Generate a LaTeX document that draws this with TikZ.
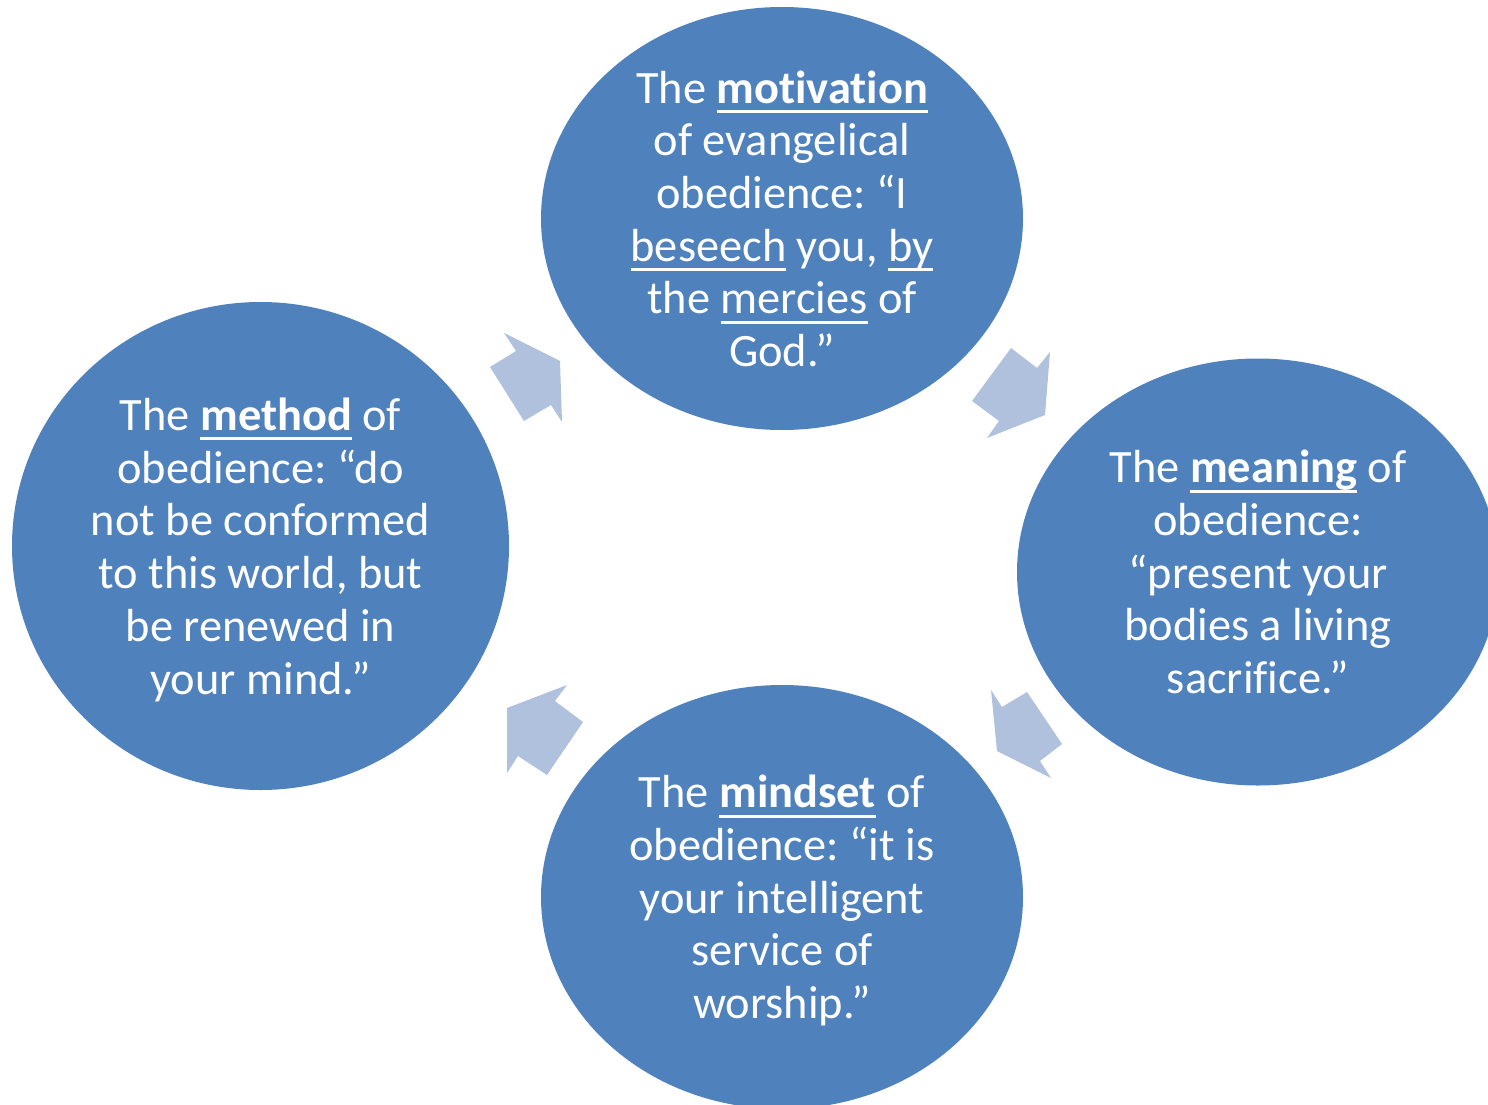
\documentclass[tikz,border=0pt]{standalone}
\usepackage{fontspec}
\setmainfont[Ligatures=NoCommon]{Carlito}
\usetikzlibrary{shapes.geometric}
\definecolor{circblue}{HTML}{4F81BD}
\definecolor{arrblue}{HTML}{B0C1DE}
\newcommand{\myul}[1]{\setbox0\hbox{#1}\rlap{\rule[-9.7pt]{\wd0}{3pt}}\box0\relax}
\frenchspacing
\tikzset{
  circ/.style={ellipse, fill=circblue, draw=none, inner sep=0pt},
  circtext/.style={text=white, align=center, font=\fontsize{46.4}{52.7}\selectfont\frenchspacing, text depth=0pt, inner sep=0pt},
  blockarrow/.style={fill=arrblue, draw=none}
}
\begin{document}
\begin{tikzpicture}[x=1pt,y=-1pt]
\useasboundingbox (0,0) rectangle (1488,1105);
\clip (0,0) rectangle (1488,1105);
% circles
\node[circ, minimum width=482, minimum height=423] (top) at (782,218.5) {};
\node[circ, minimum width=482, minimum height=427] (right) at (1258,572) {};
\node[circ, minimum width=482, minimum height=424] (bottom) at (782,897) {};
\node[circ, minimum width=497, minimum height=488] (left) at (260.5,546) {};
% texts
\node[circtext] (toptext) at (top.center) {The \myul{\textbf{motivation}}\\of evangelical\\obedience: “I\\\myul{beseech} you, \myul{by}\\the \myul{mercies} of\\God.”};
\node[circtext] (righttext) at (right.center) {The \myul{\textbf{meaning}} of\\obedience:\\“present your\\bodies a living\\sacrifice.”};
\node[circtext] (bottomtext) at (bottom.center) {The \myul{\textbf{mindset}} of\\obedience: “it is\\your intelligent\\service of\\worship.”};
\node[circtext] (lefttext) at (left.center) {The \myul{\textbf{method}} of\\obedience: “do\\not be conformed\\to this world, but\\be renewed in\\your mind.”};
% block arrows
\fill[blockarrow] (490,367) -- (516,351) -- (504,333) -- (560,361) -- (562,422) -- (551,405) -- (524,421) -- cycle;
\fill[blockarrow] (1011,348) -- (1037,368) -- (1050,352) -- (1045,415) -- (987,438) -- (999,421) -- (972,401) -- cycle;
\fill[blockarrow] (1027,692) -- (1062,744) -- (1040,761) -- (1051,778) -- (997,751) -- (991,690) -- (1002,707) -- cycle;
\fill[blockarrow] (583,722) -- (547,775) -- (518,756) -- (507,773) -- (507,708) -- (567,685) -- (555,701) -- cycle;
\end{tikzpicture}
\end{document}
